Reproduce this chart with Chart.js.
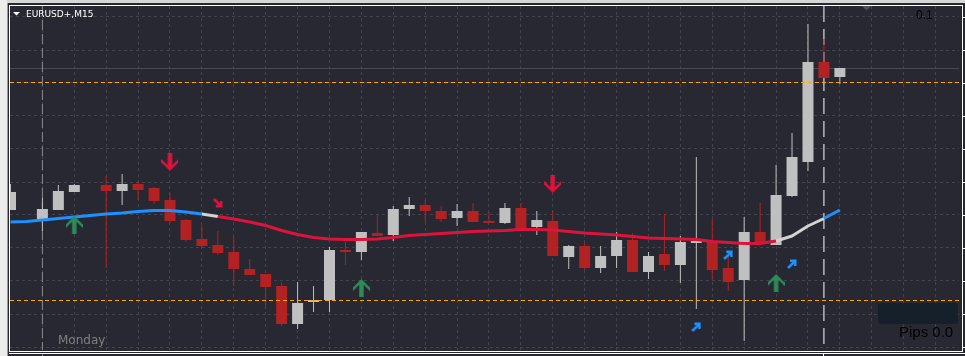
<!DOCTYPE html>
<html><head><meta charset="utf-8">
<script src="https://cdn.jsdelivr.net/npm/chart.js@4/dist/chart.umd.min.js"></script>
<style>html,body{margin:0;padding:0;background:#272831;overflow:hidden}canvas{display:block}</style>
</head><body>
<canvas id="c" width="965" height="356"></canvas>
<script>
// ---- data (EURUSD+, M15) ----
const open  = [1.08990,null,1.08981,1.08990,1.09008,null,1.09015,1.09009,1.09016,1.09012,1.09000,1.08980,1.08961,1.08955,1.08948,1.08931,1.08926,1.08914,1.08876,1.08898,1.08900,1.08950,1.08948,1.08967,1.08965,1.08991,1.08995,1.08989,1.08982,1.08989,1.08979,1.08977,1.08992,1.08973,1.08979,1.08943,1.08954,1.08932,1.08944,1.08960,1.08928,1.08946,1.08935,1.08957,1.08958,1.08932,1.08920,1.08968,1.08955,1.09004,1.09038,1.09138,1.09123];
const high  = [1.09016,null,1.09002,1.09015,1.09016,null,1.09024,1.09026,1.09019,1.09013,1.09007,1.08981,1.08975,1.08969,1.08964,1.08941,1.08926,1.08918,1.08918,1.08914,1.08953,1.08958,1.08968,1.08985,1.08994,1.09003,1.09000,1.08994,1.08996,1.08997,1.08988,1.08997,1.08997,1.08989,1.08989,1.08955,1.08957,1.08954,1.08968,1.08967,1.08948,1.08986,1.08964,1.09043,1.08981,1.08944,1.08983,1.08997,1.09035,1.09067,1.09176,1.09161,1.09132];
const low   = [1.08990,null,1.08969,1.08990,1.09008,null,1.08932,1.08995,1.09000,1.08996,1.08977,1.08958,1.08952,1.08945,1.08914,1.08925,1.08894,1.08874,1.08871,1.08888,1.08888,1.08935,1.08940,1.08964,1.08959,1.08984,1.08978,1.08978,1.08974,1.08978,1.08977,1.08976,1.08970,1.08965,1.08944,1.08931,1.08930,1.08927,1.08932,1.08928,1.08921,1.08929,1.08917,1.08891,1.08920,1.08909,1.08859,1.08956,1.08955,1.09003,1.09029,1.09122,1.09116];
const close = [1.09008,null,1.08991,1.09009,1.09015,null,1.09009,1.09016,1.09010,1.08999,1.08979,1.08960,1.08954,1.08947,1.08931,1.08925,1.08913,1.08876,1.08897,1.08900,1.08950,1.08948,1.08968,1.08964,1.08991,1.08995,1.08989,1.08981,1.08989,1.08978,1.08977,1.08992,1.08970,1.08980,1.08944,1.08954,1.08932,1.08944,1.08960,1.08928,1.08944,1.08935,1.08958,1.08959,1.08930,1.08918,1.08968,1.08956,1.09005,1.09043,1.09138,1.09122,1.09132];
// moving average and its trend state (1 up, 0 flat, -1 down)
const maValues = [1.08978,1.089785,1.08980,1.089815,1.08983,1.089845,1.08986,1.08987,1.089885,1.089895,1.089895,1.08988,1.08986,1.089835,1.08981,1.08978,1.089745,1.089695,1.089655,1.089625,1.08961,1.089605,1.089605,1.08961,1.089625,1.089645,1.089655,1.089665,1.089675,1.089685,1.08969,1.089695,1.089705,1.089705,1.08970,1.089685,1.08967,1.08966,1.08965,1.089635,1.08962,1.089615,1.08961,1.089605,1.089585,1.089575,1.089565,1.089565,1.08959,1.08964,1.08974,1.089815,1.08990];
const maState  = [1,1,1,1,1,1,1,1,1,1,1,1,0,-1,-1,-1,-1,-1,-1,-1,-1,-1,-1,-1,-1,-1,-1,-1,-1,-1,-1,-1,-1,-1,-1,-1,-1,-1,-1,-1,-1,-1,-1,-1,-1,-1,-1,-1,0,0,0,1,1];
// signal arrows
const greenUpBars = [4,22,48],  greenUpPrices = [1.08975,1.08912,1.08917];
const redDownBars = [10,34],    redDownPrices = [1.09038,1.09016];
const blueDiagBars = [43,45,49], blueDiagPrices = [1.08873,1.08945,1.08936];
const redDiagBars = [13],        redDiagPrices = [1.08997];
// horizontal levels and vertical markers
const orangeLevels = [1.091175,1.088995];
const greyLevel = 1.091315;
const separatorBar = 2, nowBar = 51;
// axes / grid
const priceMin = 1.08850, priceMax = 1.09194;
const gridPrices = [1.09183,1.09150,1.09117,1.09084,1.09051,1.09018,1.08985,1.08952,1.08919,1.08886,1.08853];
const gridBars = [2,4,6,8,10,12,14,16,18,20,22,24,26,28,30,32,34,36,38,40,42,44,46,48,50,52,54,56,58];
const xMin = -0.03125, xMax = 59.46875;

// ---- styles ----
const BG='#272831', GRID='#42434d', BULL='#c0c0c0', BEAR='#b22222';
const MA_UP='#1e90ff', MA_FLAT='#d3d3d3', MA_DN='#dc143c';

function bigArrow(color){
  const cv=document.createElement('canvas'); cv.width=17; cv.height=18;
  const c=cv.getContext('2d');
  const pts=[[8.5,0],[17,8.5],[17,12],[10.75,5.8],[10.75,18],[6.25,18],[6.25,5.8],[0,12],[0,8.5]];
  c.fillStyle=color; c.beginPath();
  pts.forEach(([x,y],i)=> i?c.lineTo(x,y):c.moveTo(x,y));
  c.closePath(); c.fill(); return cv;
}
function smallArrow(color){
  const cv=document.createElement('canvas'); cv.width=10; cv.height=10;
  const c=cv.getContext('2d');
  c.strokeStyle=color; c.lineWidth=2.6; c.lineCap='butt'; c.lineJoin='miter';
  c.beginPath(); c.moveTo(3,1.8); c.lineTo(8.2,1.8); c.lineTo(8.2,7); c.stroke();
  c.beginPath(); c.moveTo(1,9); c.lineTo(7.6,2.4); c.stroke();
  return cv;
}

const idx = open.map((_,i)=>i).filter(i=>open[i]!==null);
const isBull = i => close[i] >= open[i];
const colors = idx.map(i=> isBull(i)?BULL:BEAR);

const pts = (bars, prices) => bars.map((b,i)=>({x:b,y:prices[i]}));

const datasets = [
  { type:'line', order:0, data:pts(greenUpBars,greenUpPrices), showLine:false, pointStyle:bigArrow('#2e8b57'), pointRadius:5, pointRotation:0 },
  { type:'line', order:0, data:pts(redDownBars,redDownPrices), showLine:false, pointStyle:bigArrow('#dc143c'), pointRadius:5, pointRotation:180 },
  { type:'line', order:0, data:pts(blueDiagBars,blueDiagPrices), showLine:false, pointStyle:smallArrow('#1e90ff'), pointRadius:5, pointRotation:0 },
  { type:'line', order:0, data:pts(redDiagBars,redDiagPrices), showLine:false, pointStyle:smallArrow('#dc143c'), pointRadius:5, pointRotation:90 },
  { type:'line', order:1, data:maValues.map((v,i)=>({x:i,y:v})), borderWidth:3, pointRadius:0, borderCapStyle:'butt', borderJoinStyle:'round', tension:0,
    segment:{ borderColor: ctx => { const s=maState[ctx.p0DataIndex]; return s>0?MA_UP:(s<0?MA_DN:MA_FLAT); } } },
  ...orangeLevels.map(p=>({ type:'line', order:2, data:[{x:xMin,y:p},{x:xMax,y:p}], borderColor:'#ffa500', borderWidth:1, borderDash:[4,3], pointRadius:0 })),
  { type:'bar', order:3, data:idx.map(i=>({x:i,y:[open[i],close[i]]})), backgroundColor:colors, barThickness:11, grouped:false, inflateAmount:0, borderWidth:0, minBarLength:1 },
  { type:'bar', order:4, data:idx.map(i=>({x:i,y:[low[i],high[i]]})), backgroundColor:colors, barThickness:1, grouped:false, inflateAmount:0, borderWidth:0 },
  { type:'line', order:5, data:[{x:separatorBar,y:priceMax},{x:separatorBar,y:priceMin}], borderColor:'#8a8a8a', borderWidth:1, borderDash:[10,4], pointRadius:0 },
  { type:'line', order:5, data:[{x:nowBar,y:priceMax},{x:nowBar,y:priceMin}], borderColor:'#ffffff', borderWidth:1, borderDash:[16,7], pointRadius:0 },
  { type:'line', order:6, data:[{x:xMin,y:greyLevel},{x:xMax,y:greyLevel}], borderColor:'#484953', borderWidth:1, pointRadius:0 }
];

const chrome = {
  id:'chrome',
  beforeDraw(chart){
    const c=chart.ctx; c.save();
    c.fillStyle=BG; c.fillRect(0,0,965,356);
    c.fillStyle='#d6d6d6'; c.fillRect(0,0,965,3);
    c.fillStyle='#ececec'; c.fillRect(0,0,7,356);
    c.fillStyle='#9a9a9a'; c.fillRect(7,3,1,353);
    c.restore();
  },
  afterDraw(chart){
    const c=chart.ctx, y=chart.scales.y, x=chart.scales.x; c.save();
    // separator continues below the frame
    c.fillStyle='#8a8a8a'; c.fillRect(Math.floor(x.getPixelForValue(separatorBar)),354,1,2);
    c.fillStyle='#ffffff'; c.fillRect(Math.floor(x.getPixelForValue(nowBar)),354,1,2);
    c.fillStyle='#ffffff';
    c.fillRect(9,5,954,1);     // top
    c.fillRect(9,5,1,347);     // left
    c.fillRect(962,5,1,347);   // right
    c.fillRect(9,351,954,1);   // bottom
    c.fillRect(9,353,956,1);
    gridPrices.forEach(p=>{ const py=Math.round(y.getPixelForValue(p)); c.fillRect(962,py,3,1); });
    // shift marker
    c.fillStyle='#4f505a'; c.beginPath(); c.moveTo(862,6); c.lineTo(871,6); c.lineTo(866.5,10.5); c.closePath(); c.fill();
    // title
    c.fillStyle='#ffffff'; c.beginPath(); c.moveTo(13,12); c.lineTo(20,12); c.lineTo(16.5,15.5); c.closePath(); c.fill();
    c.font='9px "DejaVu Sans"'; c.textBaseline='alphabetic'; c.fillText('EURUSD+,M15',26,17);
    c.fillStyle='#808080'; c.font='12px "DejaVu Sans"'; c.fillText('Monday',58,344);
    c.fillStyle='#000000'; c.font='12px "Liberation Sans"'; c.fillText('0.1',916,19);
    c.fillStyle='#16202b'; c.beginPath(); c.roundRect(878,303,80,21,3); c.fill();
    c.fillStyle='#000000'; c.font='15px "Liberation Sans"'; c.fillText('Pips 0.0',899,337);
    c.restore();
  }
};

new Chart(document.getElementById('c'), {
  type:'bar',
  data:{ datasets },
  options:{
    responsive:false, animation:false, events:[],
    layout:{ padding:{ left:10, top:6, right:3, bottom:6 } },
    plugins:{ legend:{display:false}, tooltip:{enabled:false}, title:{display:false} },
    scales:{
      x:{ type:'linear', min:xMin, max:xMax, offset:false, bounds:'ticks',
          grid:{ color:GRID, offset:false, drawTicks:false }, border:{ display:false, dash:[3,3] },
          ticks:{ display:false }, afterBuildTicks:s=>{ s.ticks=gridBars.map(v=>({value:v})); } },
      y:{ type:'linear', min:priceMin, max:priceMax, beginAtZero:false,
          grid:{ color:GRID, drawTicks:false }, border:{ display:false, dash:[3,3] },
          ticks:{ display:false }, afterBuildTicks:s=>{ s.ticks=gridPrices.map(v=>({value:v})); } }
    }
  },
  plugins:[chrome]
});
</script>
</body></html>
